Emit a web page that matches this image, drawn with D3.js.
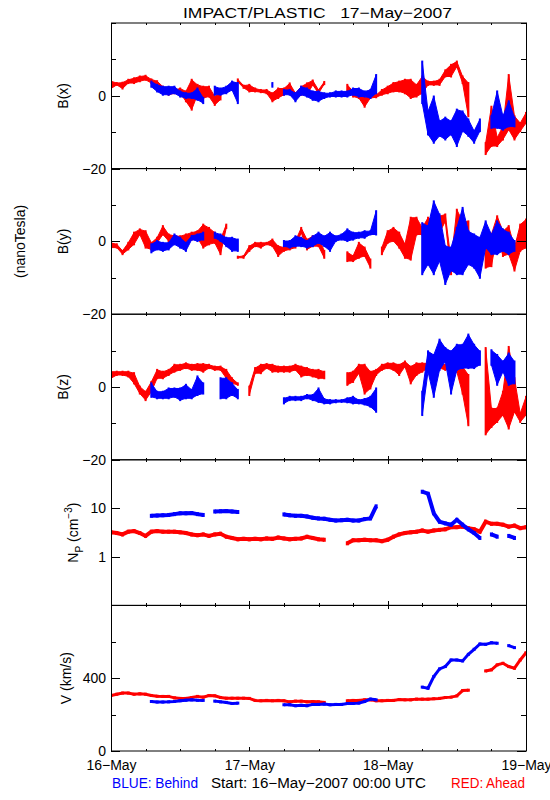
<!DOCTYPE html>
<html><head><meta charset="utf-8">
<script src="https://cdn.jsdelivr.net/npm/d3@7"></script>
<style>
body{margin:0;background:#fff}
svg{display:block}
text{font-family:"Liberation Sans",Arial,sans-serif;}
</style>
</head><body>
<svg id="c" width="550" height="800"></svg>
<script>
// ---------- DATA (hourly samples from 16-May-2007 00:00 UTC, hour 0..72) ----------
const hours = d3.range(0, 73);
const dayTicks = [0, 24, 48, 72];
const dayLabels = ["16−May", "17−May", "18−May", "19−May"];
const quarterTicks = [6, 12, 18, 30, 36, 42, 54, 60, 66];

const titleText = "IMPACT/PLASTIC   17−May−2007";
const unitText = "(nanoTesla)";
const behindText = "BLUE: Behind";
const startText = "Start: 16−May−2007 00:00 UTC";
const aheadText = "RED: Ahead";

// B components: [low, high] range per hour (nT)
const bxAhead = [[2,4],[3,3.5],[2,3.6],[3.5,4.4],[3.5,4.8],[4,5.3],[4.4,5.5],[3.5,4.5],[3,4],[1.2,2.5],
 [0.3,1.2],[0.7,1.6],[0.7,2],[-1.5,1.2],[-3.8,4.4],[0.3,3],[-0.6,2.5],[-0.2,2.5],[-2.5,-0.2],[-1,0.7],
 null,null,[3.8,4.5],[2.2,2.8],[1.2,3],[1.2,2],[1,1.6],[0.7,1.6],[-1.5,0.7],[-0.6,2],
 [0.3,2],[1.6,3.4],[-0.6,0.7],[0.3,2.5],[0.3,3.4],[3,4.2],[0.7,1.6],[3.2,3.8],null,null,
 null,[1.6,3],[-0.2,1.2],[-0.6,1.2],[-3,-0.6],[-0.6,0.7],[-0.4,0.2],[0.3,1.6],[0.7,2.5],[1.2,3.5],
 [1.2,3.9],[0.7,4.4],[-0.6,4.4],[-0.2,3],[0.7,5.3],[3,3.9],[3,3.9],[3,4.4],[5.3,7],[5.3,8.5],
 [8,9.4],[3.5,5.3],[-5.6,3.5],null,null,[-16,-13],[-13.8,-3],[-13.8,-11.5],[-12,-8.4],[-9.3,5.7],
 [-12,-5.6],[-9.7,-7.5],[-7.5,-4.7]];
const bxBehind = [null,null,null,null,null,null,null,[2.5,3.9],[1.2,3],[0.3,2.5],
 [0.3,2.5],[0.7,2.5],[-0.2,1.2],[-0.6,0.7],[-0.6,0.7],[-1.1,2],[-2,-0.6],null,[0.3,2.5],[0.3,2],
 [0.7,2.5],[1.6,3.9],[-2,3.5],null,null,null,null,null,[2.5,3.5],null,
 [0.3,1.6],[0.3,1.6],[-1.5,0.7],[0.3,2.5],[-0.2,2],[-1.1,1.2],[-1.5,1.2],[-0.6,0.7],[-0.2,0.7],[-0.2,1.2],
 [-0.2,1.2],[-0.2,1.2],[0.3,2],[-0.2,2],[-0.2,1.2],[-0.6,1.6],[0.7,5.7],null,null,null,
 null,null,null,null,[-2,9.4],[-10.6,-4.3],[-12.9,-0.2],[-11,-7],[-12,-6],[-10.6,-7],
 [-13.8,-3.8],[-9.7,-4.3],[-11,-6.5],[-12.9,-9.7],[-9.7,-6.5],null,[-8.8,-5.6],[-8.8,1.2],[-9.3,-5.6],[-8.4,-1.5],
 [-8.4,-6],null,null];

const byAhead = [[-1.7,-0.4],[-1.7,-0.8],[-3.5,-2.6],[-2.2,-0.4],[-0.8,2.4],[1.9,3.3],[-1.7,2.8],[-2.2,-0.4],[-0.4,1],[1.9,4.2],
 [0.1,1.9],[0.5,1.5],[-1.3,1.4],[0,1.9],[0.5,2.4],[1,2.8],[-1.7,4.6],[-0.8,3.7],[-0.4,2.4],[-3.5,0.5],
 [3.7,4.6],null,[-4.5,-4.2],[-4.5,-4],[-2.6,-1.3],[-1.3,-0.4],[-1.7,-0.4],[-0.8,-0.4],[-1.3,0.5],[-4,-1.3],
 [-2.6,-1.7],[-2.2,-0.8],[-1.7,0.1],[2.4,3.7],[-2.2,0.5],[-1.3,1.4],[-1.3,1],[-4.5,-2.6],null,null,
 null,[-5.4,-3],[-5.4,-4],[-4.5,-0.4],[-4,-1.7],[-7.2,-5],null,[-3.5,-1.7],[-0.4,2.8],[0.1,3.7],
 [-1.7,2.4],[-4.5,-0.8],[-5,6.5],[1.9,6.5],[1.9,3.7],[1.5,6.5],[-0.8,5.5],[2.4,6.9],[5.5,7.4],[-9,-5.4],
 [3.7,8.7],[1.9,5.5],[0.5,5.5],null,null,[-7.2,2.8],[-6.8,1.9],[1.9,6.9],[-4,2.8],[-3.5,4.2],
 [-8,-1.7],[-2.6,4.6],[-1.7,6]];
const byBehind = [null,null,null,null,null,null,null,[-3,-0.8],[-2.2,0.1],[-2.6,-0.4],
 [-2.2,-0.4],[-0.8,1.9],[-1.7,1],[-2.6,-0.4],[0.5,1.5],[0.1,1.9],[0.5,2.4],null,[1,2.4],[0.1,1.9],
 [-1.3,1],[-2.6,1],[-2.6,0.5],null,null,null,null,null,null,null,
 [-1.3,0.1],[-1.7,0.1],[-1.3,1.4],[-1.3,1],[-1.7,0.1],[-1.3,1.4],[-0.4,2.4],[-1.3,1.4],[-2.6,2.4],[0.1,1.4],
 [0.5,1.9],[0.1,3.3],[0.5,2.4],[1,2.4],[1,2.8],[1.9,2.8],[1.9,8.3],null,null,null,
 null,null,null,null,[-9,5],[-6.3,4.2],[-9,11],[-5.4,7.4],[-11.7,-1.3],[-8,-1.7],
 [-9,3.7],[-9,9.2],[-6.3,2.8],[-7.2,1.9],[-10,1],[-1.7,5.5],[-3.5,1.9],[-3.5,5.5],[-2.6,3.3],[-3.5,2.4],
 [-2.6,0.1],null,null];

const bzAhead = [[2.4,4.2],[3.3,4.2],[3.3,4.2],[2.9,4.2],[1,3.8],[-1.8,0.1],[-3.6,-1.3],[-1.3,1.4],[2.4,4.7],[2.4,4.2],
 [3.3,4.7],[4.2,6.1],[4.7,6.1],[5.2,6.5],[4.7,6.1],[4.7,6.3],[4.2,6.3],[5.2,6.1],[4.7,5.6],[4.7,5.6],
 [2.4,4.7],[1,2.4],[0.6,1],null,[-2.2,0.1],[3.8,5.2],[3.8,6.1],[5.2,6.3],[4.2,6.1],[4.2,5.6],
 [4.2,5.6],[4.2,5.6],[4.7,6.1],[2.9,5.6],[3.3,5.2],[2.9,4.7],[2.4,4.7],[2.4,4.2],null,null,
 null,[0.6,3.8],[1.4,4.2],[3.8,6.1],[-1.8,6.1],[-0.4,4.2],[3.3,4.7],[4.7,6.1],[5.2,6.5],[4.7,6.5],
 [3.3,6.1],[5.6,7],[1,5.6],[3.3,6.5],[4.2,6.5],[5.2,6.5],[5.2,6.5],[5.2,6.5],[4.7,6.1],[5.2,7],
 [4.2,6.1],[-1.8,5.6],[-10.5,3.3],null,null,[-13,10.7],[-11,-5.9],[-9.6,-5.9],[-7.7,-1.3],[-11.4,11],
 [-6.8,2.4],[-9.6,-7.3],[-7.7,-2.7]];
const bzBehind = [null,null,null,null,null,null,null,[-2.7,1],[-3.1,-1.3],[-3.1,-1.3],
 [-3.1,-0.4],[-2.7,-0.4],[-3.6,-0.4],[-3.1,0.6],[-3.1,-0.8],[-2.2,2.9],[-1.8,1],null,null,[-3.1,2.4],
 [-3.1,2.4],[-2.2,1],[-3.1,-0.8],null,null,null,null,null,null,null,
 [-4.5,-3.1],[-3.6,-2.7],[-3.6,-2.7],[-3.6,-2.7],[-3.1,-2.2],[-3.6,-2.2],[-4.1,-0.4],[-4.5,-3.3],[-4.5,-3.6],[-4.2,-3.6],
 [-4.1,-3.6],[-4.2,-3.1],[-4.5,-2.7],[-4.5,-3.6],[-4.8,-3.3],[-5.4,-2.7],[-6.8,-0.4],null,null,null,
 null,null,null,null,[-7.7,-1.3],[4.2,9.8],[-2.7,8.8],[4.7,13],[7,10.7],[-1.8,9.8],
 [4.7,11.6],[5.2,11.6],[5.2,14.4],[5.2,11.6],[6.1,9.8],null,[6.1,10.1],[0.6,8.8],[4.2,7],[0.6,9.2],
 [1,7],null,null];

// Proton density (cm^-3)
const npAhead = [3.2,3.1,2.9,3.3,3.4,3.1,2.7,3.3,3.4,3.3,
 3.3,3.3,3.2,3.1,2.9,2.8,2.9,2.7,2.9,3.0,
 2.6,2.45,2.3,2.35,2.3,2.35,2.3,2.4,2.35,2.5,
 2.4,2.3,2.35,2.4,2.6,2.45,2.3,2.25,null,null,
 null,1.9,2.2,2.2,2.25,2.2,2.2,2.1,2.25,2.6,
 2.9,3.1,3.2,3.3,3.5,3.3,3.5,3.6,3.7,4.1,
 4.1,4.2,3.9,3.7,3.3,5.3,4.8,4.8,4.6,4.2,
 4.4,3.9,4.1];
const npBehind = [null,null,null,null,null,null,null,7.0,7.1,7.2,
 7.3,7.6,7.9,7.9,8.0,7.6,7.3,null,8.6,8.7,
 8.8,8.6,8.4,null,null,null,null,null,null,null,
 7.5,7.2,7.0,7.0,6.8,6.4,6.2,6.1,5.8,5.6,
 5.7,5.8,5.6,5.6,6.0,6.2,11,null,null,null,
 null,null,null,null,22,20,7.9,5.3,4.9,4.6,
 5.8,4.6,3.7,3.1,2.45,null,2.9,2.6,null,2.7,
 2.45,null,null];

// Bulk speed (km/s)
const vAhead = [305,312,318,318,312,314,312,305,301,300,
 300,292,289,289,294,300,296,305,303,294,
 290,290,290,290,289,278,276,278,276,278,
 276,270,274,274,270,272,270,267,null,null,
 null,276,278,278,281,281,276,276,278,278,
 283,281,281,285,285,285,287,289,294,296,
 303,332,334,null,null,440,446,473,482,464,
 455,500,540];
const vBehind = [null,null,null,null,null,null,null,272,269,269,
 270,272,276,279,281,279,278,null,274,270,
 267,261,263,null,null,null,null,null,null,null,
 254,254,249,251,249,256,256,258,254,256,
 256,261,261,263,272,285,281,null,null,null,
 null,null,null,null,351,345,409,451,464,500,
 500,495,531,559,588,586,595,592,null,579,
 568,null,null];

// axes
const bDomain = [-20, 20];
const bTicks = [-20, -10, 0, 10, 20];
const bLabels = [-20, 0];
const npDomain = [0.1, 100];
const npTicks = [0.1, 1, 10, 100];
const npLabels = [1, 10];
const vDomain = [0, 800];
const vTicks = [0, 200, 400, 600, 800];
const vLabels = [0, 400];

// ---------- DRAWING ----------
const RED = "#ff0000", BLUE = "#0000ff";
const svg = d3.select("#c");
svg.append("rect").attr("width", 550).attr("height", 800).attr("fill", "#fff");

const left = 111, right = 526;
const x = d3.scaleLinear().domain([0, 72]).range([left, right]);
const top0 = 23, ph = 145.6;

const panels = [
  {label: "B(x)", kind: "band", ahead: bxAhead, behind: bxBehind, domain: bDomain, ticks: bTicks, labels: bLabels},
  {label: "B(y)", kind: "band", ahead: byAhead, behind: byBehind, domain: bDomain, ticks: bTicks, labels: bLabels},
  {label: "B(z)", kind: "band", ahead: bzAhead, behind: bzBehind, domain: bDomain, ticks: bTicks, labels: bLabels},
  {label: "Np", kind: "line", log: true, ahead: npAhead, behind: npBehind, domain: npDomain, ticks: npTicks, labels: npLabels, sw: 4},
  {label: "V (km/s)", kind: "line", ahead: vAhead, behind: vBehind, domain: vDomain, ticks: vTicks, labels: vLabels, sw: 3}
];

const fmt = v => String(v).replace("-", "−");

panels.forEach((p, i) => {
  const y0 = top0 + i * ph, y1 = y0 + ph;
  const y = (p.log ? d3.scaleLog() : d3.scaleLinear()).domain(p.domain).range([y1, y0]);
  const g = svg.append("g");
  const clipId = "clip" + i;
  svg.append("clipPath").attr("id", clipId).append("rect")
    .attr("x", left).attr("y", y0).attr("width", right - left).attr("height", ph);
  const dg = g.append("g").attr("clip-path", `url(#${clipId})`);

  [[p.ahead, RED], [p.behind, BLUE]].forEach(([arr, col]) => {
    const pts = hours.map(h => ({h, v: arr[h]}));
    if (p.kind === "band") {
      const area = d3.area().defined(d => d.v != null)
        .x(d => x(d.h)).y0(d => y(d.v[0])).y1(d => y(d.v[1]));
      dg.append("path").datum(pts).attr("d", area)
        .attr("fill", col).attr("stroke", col).attr("stroke-width", 1);
      dg.selectAll(null).data(pts.filter(d => d.v != null)).join("rect")
        .attr("x", d => x(d.h) - 1).attr("width", 2)
        .attr("y", d => y(d.v[1]) - 1).attr("height", d => Math.max(2, y(d.v[0]) - y(d.v[1]) + 2))
        .attr("fill", col);
    } else {
      const line = d3.line().defined(d => d.v != null).x(d => x(d.h)).y(d => y(d.v));
      dg.append("path").datum(pts).attr("d", line)
        .attr("fill", "none").attr("stroke", col).attr("stroke-width", p.sw);
      dg.selectAll(null).data(pts.filter(d => d.v != null)).join("rect")
        .attr("x", d => x(d.h) - 1.5).attr("width", 3)
        .attr("y", d => y(d.v) - p.sw / 2).attr("height", p.sw)
        .attr("fill", col);
    }
  });

  // frame
  g.append("rect").attr("x", left + 0.5).attr("y", y0).attr("width", right - left).attr("height", ph)
    .attr("fill", "none").attr("stroke", "#000").attr("stroke-width", 1);

  // y axes
  const major = p.log ? p.ticks : p.ticks.filter(t => p.labels.includes(t));
  const minor = p.ticks.filter(t => !major.includes(t));
  const lg = g.append("g").attr("transform", `translate(${left},0)`);
  lg.call(d3.axisLeft(y).tickValues(major).tickSizeInner(-9).tickSizeOuter(0).tickPadding(5)
    .tickFormat(v => p.labels.includes(v) ? fmt(v) : ""));
  lg.append("g").call(d3.axisLeft(y).tickValues(minor).tickSizeInner(-5).tickSizeOuter(0).tickFormat(""));
  const rg = g.append("g").attr("transform", `translate(${right},0)`);
  rg.call(d3.axisRight(y).tickValues(major).tickSizeInner(-9).tickSizeOuter(0).tickFormat(""));
  rg.append("g").call(d3.axisRight(y).tickValues(minor).tickSizeInner(-5).tickSizeOuter(0).tickFormat(""));

  // x ticks top & bottom
  const bg = g.append("g").attr("transform", `translate(0,${y1})`);
  bg.call(d3.axisBottom(x).tickValues(dayTicks).tickSizeInner(-4).tickSizeOuter(0).tickFormat(""));
  bg.append("g").call(d3.axisBottom(x).tickValues(quarterTicks).tickSizeInner(-2).tickSizeOuter(0).tickFormat(""));
  const tg = g.append("g").attr("transform", `translate(0,${y0})`);
  tg.call(d3.axisTop(x).tickValues(dayTicks).tickSizeInner(-4).tickSizeOuter(0).tickFormat(""));
  tg.append("g").call(d3.axisTop(x).tickValues(quarterTicks).tickSizeInner(-2).tickSizeOuter(0).tickFormat(""));

  if (i === panels.length - 1) {
    const xl = g.append("g").attr("transform", `translate(0,${y1})`);
    xl.call(d3.axisBottom(x).tickValues(dayTicks).tickSize(0).tickPadding(9)
      .tickFormat((d, k) => dayLabels[k]));
    xl.selectAll("text").attr("font-size", 14).attr("font-family", '"Liberation Sans",Arial,sans-serif');
  }

  g.selectAll(".domain").remove();
  g.selectAll(".tick line").attr("stroke", "#000").attr("shape-rendering", "crispEdges");
  lg.selectAll("text").attr("font-size", 14).attr("font-family", '"Liberation Sans",Arial,sans-serif').attr("fill", "#000");

  // y label
  const cy = (y0 + y1) / 2;
  if (p.label === "Np") {
    const t = svg.append("text").attr("transform", `translate(78,${cy}) rotate(-90)`)
      .attr("text-anchor", "middle").attr("font-size", 14);
    t.append("tspan").text("N");
    t.append("tspan").attr("font-size", 10).attr("dy", 5).text("P");
    t.append("tspan").attr("dy", -5).text(" (cm");
    t.append("tspan").attr("font-size", 10).attr("dy", -6).text("−3");
    t.append("tspan").attr("dy", 6).text(")");
  } else {
    const lx = p.label.startsWith("V") ? 71 : 68;
    svg.append("text").attr("transform", `translate(${lx},${cy}) rotate(-90)`)
      .attr("text-anchor", "middle").attr("font-size", 14).text(p.label);
  }
});

// unit label
svg.append("text").attr("transform", `translate(25,${top0 + 1.5 * ph}) rotate(-90)`)
  .attr("text-anchor", "middle").attr("font-size", 14).text(unitText);

// title
svg.append("text").attr("x", 183).attr("y", 18).attr("font-size", 15)
  .style("white-space", "pre").attr("xml:space", "preserve")
  .attr("textLength", 269).attr("lengthAdjust", "spacingAndGlyphs").text(titleText);

// bottom notes
svg.append("text").attr("x", 112).attr("y", 788).attr("font-size", 14).attr("fill", BLUE)
  .attr("textLength", 86).attr("lengthAdjust", "spacingAndGlyphs").text(behindText);
svg.append("text").attr("x", 211).attr("y", 788).attr("font-size", 14).attr("fill", "#000")
  .attr("textLength", 215).attr("lengthAdjust", "spacingAndGlyphs").text(startText);
svg.append("text").attr("x", 451).attr("y", 788).attr("font-size", 14).attr("fill", RED)
  .attr("textLength", 74).attr("lengthAdjust", "spacingAndGlyphs").text(aheadText);
</script>
</body></html>
